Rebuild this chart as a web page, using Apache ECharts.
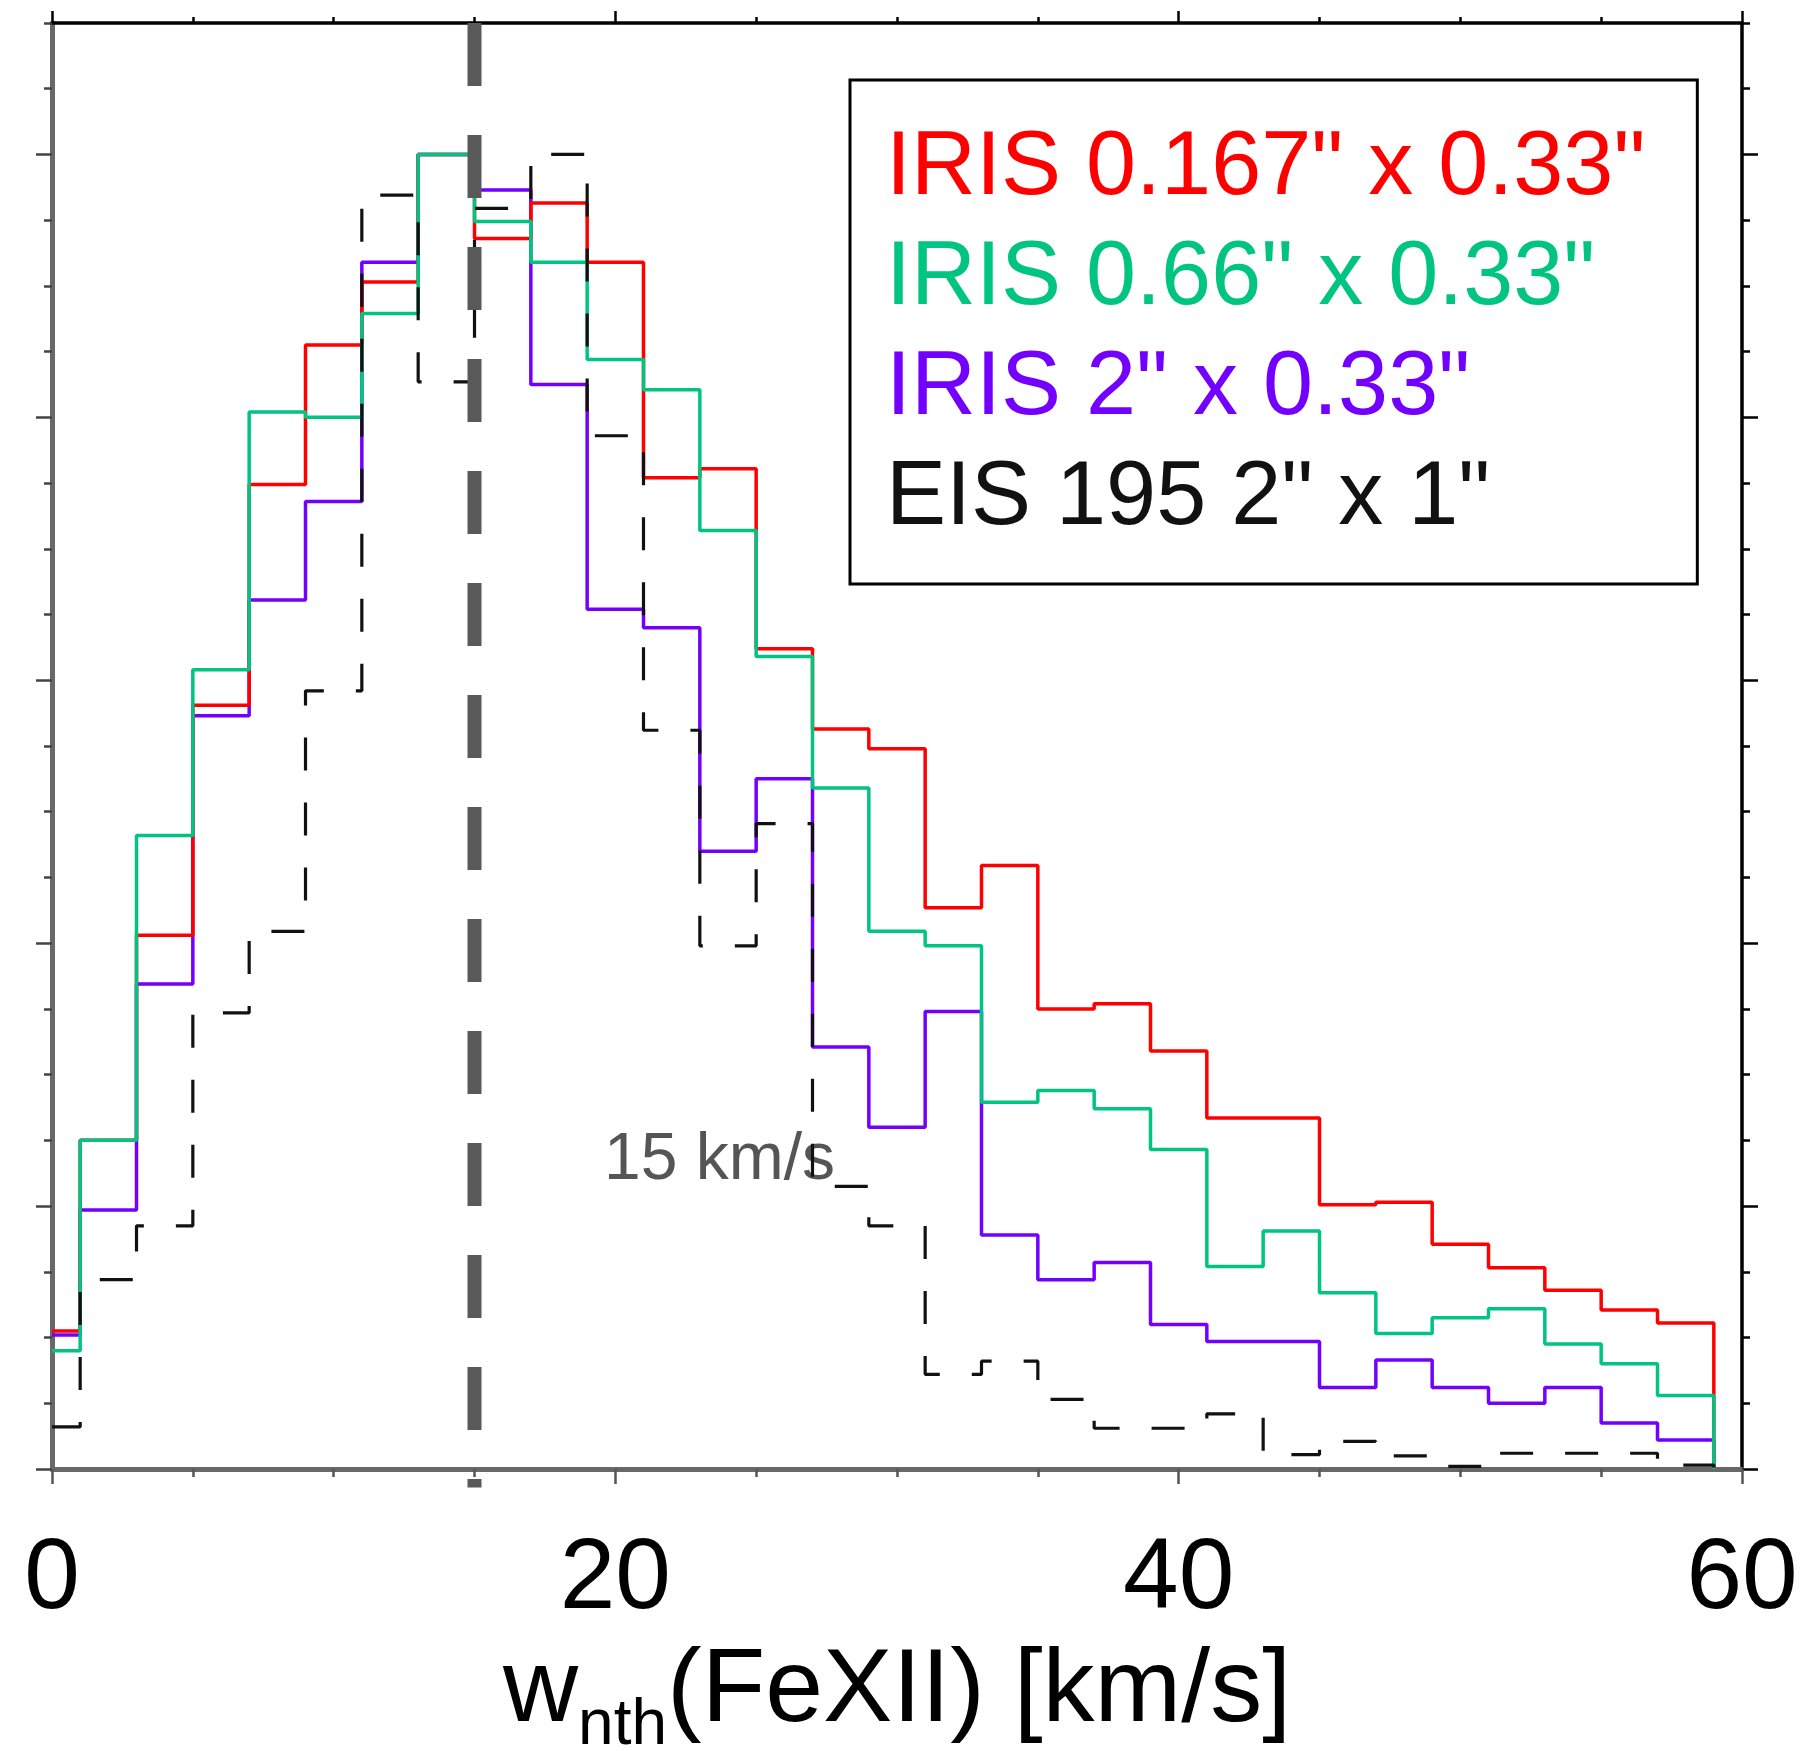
<!DOCTYPE html>
<html>
<head>
<meta charset="utf-8">
<script src="https://cdn.jsdelivr.net/npm/echarts@6/dist/echarts.min.js"></script>
<style>
  html, body { margin: 0; padding: 0; background: #fff; }
  #chart { width: 1808px; height: 1751px; }
</style>
</head>
<body>
<div id="chart"></div>
<script>
// Histogram bin centres in km/s (bins are 2 km/s wide)
const binCenters = [0, 2, 4, 6, 8, 10, 12, 14, 16, 18, 20, 22, 24, 26, 28,
                    30, 32, 34, 36, 38, 40, 42, 44, 46, 48, 50, 52, 54, 56, 58];
const binWidth = 2;

// Normalised non-thermal width distributions (peak = 1)
const iris0167 = [0.105, 0.250, 0.406, 0.581, 0.749, 0.855, 0.903, 1.000, 0.936, 0.963,
                  0.918, 0.754, 0.761, 0.624, 0.563, 0.548, 0.427, 0.459, 0.350, 0.354,
                  0.318, 0.267, 0.267, 0.201, 0.203, 0.171, 0.153, 0.136, 0.121, 0.111];
const iris066  = [0.090, 0.250, 0.482, 0.608, 0.804, 0.800, 0.879, 1.000, 0.949, 0.918,
                  0.844, 0.821, 0.714, 0.618, 0.518, 0.409, 0.398, 0.279, 0.288, 0.274,
                  0.243, 0.154, 0.181, 0.134, 0.103, 0.115, 0.122, 0.095, 0.080, 0.056];
const iris2    = [0.102, 0.197, 0.369, 0.573, 0.661, 0.736, 0.918, 1.000, 0.973, 0.825,
                  0.654, 0.640, 0.470, 0.525, 0.321, 0.260, 0.348, 0.178, 0.144, 0.157,
                  0.110, 0.097, 0.097, 0.062, 0.083, 0.062, 0.050, 0.062, 0.035, 0.022];
const eis195   = [0.032, 0.144, 0.185, 0.347, 0.409, 0.592, 0.969, 0.827, 0.959, 1.000,
                  0.786, 0.562, 0.398, 0.491, 0.215, 0.185, 0.072, 0.082, 0.053, 0.031,
                  0.031, 0.042, 0.011, 0.021, 0.010, 0.002, 0.012, 0.012, 0.012, 0.003];

const seriesNames = ['IRIS 0.167" x 0.33"', 'IRIS 0.66" x 0.33"', 'IRIS 2" x 0.33"', 'EIS 195 2" x 1"'];
const seriesColors = ['#ff0000', '#00c47f', '#7300ff', '#111111'];

// Axis ticks
const xMin = 0, xMax = 60, xStep = 20;
const yMin = 0, yMax = 1.1;
const yMajorTicks = [0, 0.2, 0.4, 0.6, 0.8, 1.0];
const yMinorStep = 0.05;

// Reference width marker
const refWidth = 15;           // km/s
const refLineBottom = -0.014;  // dashes run just past the axis

const FONT = '"Liberation Sans", Arial, Helvetica, sans-serif';

// Turn bin values into a closed step outline
function histSteps(values) {
  const pts = [];
  values.forEach((v, i) => {
    const lo = Math.max(xMin, binCenters[i] - binWidth / 2);
    const hi = binCenters[i] + binWidth / 2;
    pts.push([lo, v], [hi, v]);
  });
  pts.push([binCenters[binCenters.length - 1] + binWidth / 2, 0]);
  return pts;
}

function histSeries(name, values, color, extra) {
  return Object.assign({
    type: 'line',
    name: name,
    data: histSteps(values),
    symbol: 'none',
    showSymbol: false,
    silent: true,
    animation: false,
    itemStyle: { color: color },
    lineStyle: { color: color, width: 3.5 }
  }, extra || {});
}

function yAxisSide(position, major, lineColor, lineWidth, tickColor) {
  const ax = {
    type: 'value', min: yMin, max: yMax, position: position,
    axisLine: { show: !major, onZero: false, lineStyle: { color: lineColor, width: lineWidth } },
    axisTick: { show: true, inside: false, length: major ? 16 : 8,
                lineStyle: { color: tickColor, width: 2.5 } },
    axisLabel: { show: false },
    splitLine: { show: false }
  };
  if (major) {
    ax.interval = 0.2;
    ax.axisTick.customValues = yMajorTicks;
  } else {
    ax.interval = yMinorStep;
  }
  return ax;
}

const chart = echarts.init(document.getElementById('chart'), null, { renderer: 'canvas' });

chart.setOption({
  animation: false,
  backgroundColor: '#ffffff',
  textStyle: { fontFamily: FONT },
  grid: { left: 52, right: 66, top: 23, bottom: 282, containLabel: false, outerBoundsMode: 'none' },
  xAxis: [
    {
      type: 'value', min: xMin, max: xMax, interval: xStep, position: 'bottom',
      axisLine: { onZero: false, lineStyle: { color: '#686868', width: 5 } },
      axisTick: { show: true, length: 15, lineStyle: { color: '#555', width: 2.5 } },
      minorTick: { show: true, splitNumber: 4, length: 8, lineStyle: { color: '#555', width: 2.5 } },
      axisLabel: { fontSize: 100, color: '#000', margin: 61, fontFamily: FONT },
      splitLine: { show: false },
      minorSplitLine: { show: false },
      name: '{w|w}{sub|nth}{w|(FeXII) [km/s]}',
      nameLocation: 'middle',
      nameGap: 168,
      nameTextStyle: {
        rich: {
          w: { fontSize: 104, lineHeight: 110, color: '#000', fontFamily: FONT },
          sub: { fontSize: 64, height: 42, verticalAlign: 'bottom', color: '#000', fontFamily: FONT }
        }
      }
    },
    {
      type: 'value', min: xMin, max: xMax, interval: xStep, position: 'top',
      axisLine: { onZero: false, lineStyle: { color: '#000', width: 3.5 } },
      axisTick: { show: true, length: 12, lineStyle: { color: '#000', width: 2.5 } },
      minorTick: { show: true, splitNumber: 4, length: 6, lineStyle: { color: '#000', width: 2.5 } },
      axisLabel: { show: false },
      splitLine: { show: false },
      minorSplitLine: { show: false }
    }
  ],
  yAxis: [
    yAxisSide('left', false, '#686868', 5, '#444'),
    yAxisSide('left', true, '#686868', 5, '#444'),
    yAxisSide('right', false, '#000', 3.5, '#000'),
    yAxisSide('right', true, '#000', 3.5, '#000')
  ],
  legend: {
    show: true,
    orient: 'vertical',
    left: 850,
    top: 80,
    padding: [34, 52, 30, 31],
    itemGap: 0,
    itemWidth: 0,
    itemHeight: 0,
    icon: 'rect',
    selectedMode: false,
    backgroundColor: '#ffffff',
    borderColor: '#000000',
    borderWidth: 3,
    borderRadius: 0,
    textStyle: { fontSize: 90, lineHeight: 110, fontFamily: FONT },
    data: [0, 1, 2, 3].map(i => ({ name: seriesNames[i], textStyle: { color: seriesColors[i] } }))
  },
  graphic: [
    {
      type: 'text',
      left: 604,
      top: 1128,
      silent: true,
      style: { text: refWidth + ' km/s', fontSize: 66, fontFamily: FONT, fill: '#555555' }
    }
  ],
  series: [
    histSeries(seriesNames[2], iris2, seriesColors[2], { z: 2 }),
    histSeries(seriesNames[0], iris0167, seriesColors[0], { z: 3 }),
    histSeries(seriesNames[1], iris066, seriesColors[1], { z: 4 }),
    histSeries(seriesNames[3], eis195, seriesColors[3], {
      z: 5,
      lineStyle: { color: seriesColors[3], width: 3.2, type: [33, 32] }
    }),
    {
      type: 'line',
      name: 'reference',
      data: [[refWidth, yMax], [refWidth, refLineBottom]],
      clip: false,
      symbol: 'none',
      silent: true,
      animation: false,
      z: 6,
      lineStyle: { color: '#595959', width: 14, type: [63, 49], cap: 'butt' }
    }
  ]
});
</script>
</body>
</html>
